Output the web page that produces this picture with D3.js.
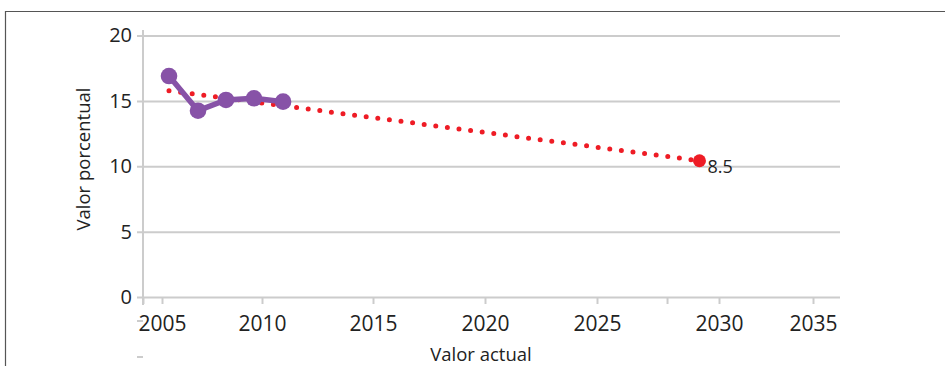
<!DOCTYPE html>
<html>
<head>
<meta charset="utf-8">
<script src="https://cdn.jsdelivr.net/npm/d3@7"></script>
<style>
  body { margin: 0; background: #fff; }
  svg text { font-family: "Open Sans", "DejaVu Sans", sans-serif; }
</style>
</head>
<body>
<div id="chart"></div>
<script>
// data
const years = [2005.35, 2006.8, 2008.2, 2009.6, 2010.95];
const values = [16.9, 14.25, 15.07, 15.2, 14.94];
const trendYears = [2005.35, 2029.2];
const trendValues = [15.78, 10.42];
const trendLabel = "8.5";
const xTickLabels = [2005, 2010, 2015, 2020, 2025, 2030, 2035];
const xExtraTicks = [2004.05, 2027.87];
const yTicks = [0, 5, 10, 15, 20];

const width = 945, height = 366;
const font = "'Open Sans', sans-serif";

const svg = d3.select("#chart")
  .append("svg")
  .attr("width", width)
  .attr("height", height);

// outer frame (only top and left visible)
svg.append("path")
  .attr("d", "M5.5,366 V11.5 H945")
  .attr("fill", "none")
  .attr("stroke", "#555")
  .attr("stroke-width", 1.2);

// the x axis in the source is not evenly spaced, so the scale is piecewise
const xScale = d3.scaleLinear()
  .domain([2004.05, 2005, 2010, 2015, 2020, 2025, 2030, 2035, 2036.44])
  .range([143, 162, 262, 373, 485, 597, 719, 813, 840]);

const yScale = d3.scaleLinear()
  .domain([0, 20])
  .range([297, 35.5]);

const grid = "#cccccc";

// horizontal grid lines + y axis
const yAxis = d3.axisLeft(yScale)
  .tickValues(yTicks)
  .tickSize(-(840 - 143))
  .tickPadding(10)
  .tickFormat(d3.format("d"));

const yg = svg.append("g")
  .attr("transform", "translate(143,0)")
  .call(yAxis);
yg.select(".domain").remove();
yg.selectAll(".tick line")
  .attr("x1", -6)
  .attr("stroke", grid)
  .attr("stroke-width", 2);
yg.selectAll(".tick text")
  .attr("x", -11)
  .attr("font-family", font)
  .attr("font-size", 20)
  .attr("fill", "#222");

// vertical axis line
svg.append("line")
  .attr("x1", 143).attr("x2", 143)
  .attr("y1", 30).attr("y2", 305)
  .attr("stroke", grid)
  .attr("stroke-width", 2);

// x axis ticks
const xAxis = d3.axisBottom(xScale)
  .tickValues(xTickLabels.concat(xExtraTicks))
  .tickSize(7)
  .tickPadding(12)
  .tickFormat(d => xTickLabels.includes(d) ? d : "");

const xg = svg.append("g")
  .attr("transform", "translate(0,297)")
  .call(xAxis);
xg.select(".domain").remove();
xg.selectAll(".tick line")
  .attr("stroke", grid)
  .attr("stroke-width", 2);
xg.selectAll(".tick text")
  .attr("font-family", font)
  .attr("font-size", 21)
  .attr("fill", "#222");

// small stray dashes seen in the source
[321, 357].forEach(y => {
  svg.append("line")
    .attr("x1", 137).attr("x2", 143)
    .attr("y1", y).attr("y2", y)
    .attr("stroke", "#bbb")
    .attr("stroke-width", 1.5);
});

// axis titles
svg.append("text")
  .attr("transform", "translate(90,159) rotate(-90)")
  .attr("text-anchor", "middle")
  .attr("font-family", font)
  .attr("font-size", 18.5)
  .attr("fill", "#222")
  .text("Valor porcentual");

svg.append("text")
  .attr("x", 481)
  .attr("y", 361)
  .attr("text-anchor", "middle")
  .attr("font-family", font)
  .attr("font-size", 18.5)
  .attr("fill", "#222")
  .text("Valor actual");

// dotted trend line
const trend = trendYears.map((y, i) => ({ x: y, v: trendValues[i] }));
const line = d3.line()
  .x(d => xScale(d.x))
  .y(d => yScale(d.v));

svg.append("path")
  .datum(trend)
  .attr("d", line)
  .attr("fill", "none")
  .attr("stroke", "#ee1c25")
  .attr("stroke-width", 5)
  .attr("stroke-linecap", "round")
  .attr("stroke-dasharray", "0 11.7");

const last = trend[trend.length - 1];
svg.append("circle")
  .attr("cx", xScale(last.x))
  .attr("cy", yScale(last.v))
  .attr("r", 6.5)
  .attr("fill", "#ee1c25");

svg.append("text")
  .attr("x", xScale(last.x) + 8)
  .attr("y", yScale(last.v) + 12)
  .attr("font-family", font)
  .attr("font-size", 18)
  .attr("fill", "#222")
  .text(trendLabel);

// purple series
const series = years.map((y, i) => ({ x: y, v: values[i] }));
svg.append("path")
  .datum(series)
  .attr("d", line)
  .attr("fill", "none")
  .attr("stroke", "#8752a7")
  .attr("stroke-width", 5.5)
  .attr("stroke-linejoin", "round");

svg.selectAll(".pt")
  .data(series)
  .enter()
  .append("circle")
  .attr("class", "pt")
  .attr("cx", d => xScale(d.x))
  .attr("cy", d => yScale(d.v))
  .attr("r", 8.3)
  .attr("fill", "#8752a7");
</script>
</body>
</html>
